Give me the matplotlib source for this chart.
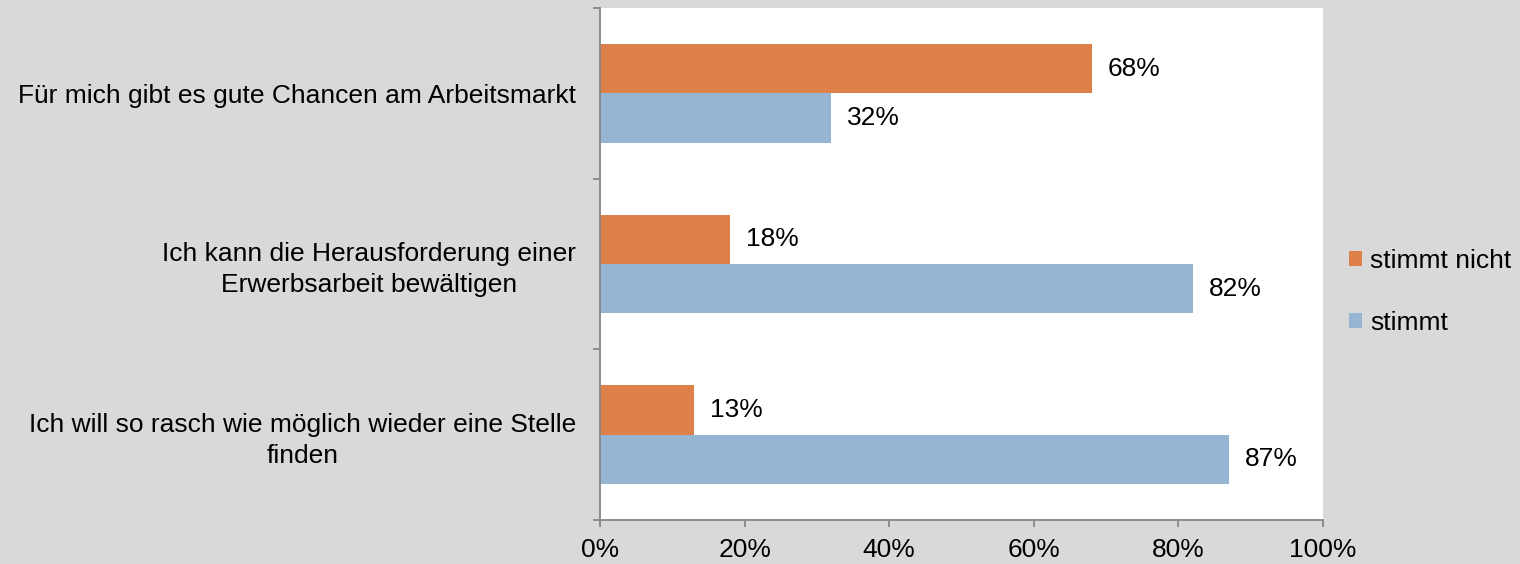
import matplotlib
matplotlib.use("Agg")
import matplotlib.pyplot as plt
import numpy as np

categories = [
    "Für mich gibt es gute Chancen am Arbeitsmarkt",
    "Ich kann die Herausforderung einer\nErwerbsarbeit bewältigen",
    "Ich will so rasch wie möglich wieder eine Stelle\nfinden",
]
stimmt_nicht = [68, 18, 13]
stimmt = [32, 82, 87]
series_names = ["stimmt nicht", "stimmt"]
xticks = [0, 20, 40, 60, 80, 100]

plt.rcParams['font.family'] = ['Liberation Sans', 'DejaVu Sans']
FS = 19
BG = '#d9d9d9'
ORANGE = '#dd8049'
BLUE = '#95b5d3'
SPINE = '#868686'

fig = plt.figure(figsize=(15.2, 5.64), dpi=100, facecolor=BG)
ax = fig.add_axes([600/1520, 1-520/564, 723/1520, 512/564])
ax.set_facecolor('white')

y = np.arange(len(categories))
h = 49/170
b1 = ax.barh(y - h/2, stimmt_nicht, height=h, color=ORANGE, label=series_names[0])
b2 = ax.barh(y + h/2, stimmt, height=h, color=BLUE, label=series_names[1])

for bars, vals in ((b1, stimmt_nicht), (b2, stimmt)):
    for rect, v in zip(bars, vals):
        ax.annotate(f"{v}%", (rect.get_width(), rect.get_y() + rect.get_height()/2),
                    xytext=(16, 0), textcoords='offset pixels',
                    ha='left', va='center', fontsize=FS, color='black')

ax.set_xlim(0, 100)
ax.set_ylim(len(categories) - 0.5, -0.5)
ax.set_xticks(xticks)
ax.set_xticklabels([f"{t}%" for t in xticks], fontsize=FS)
ax.set_yticks(np.arange(-0.5, len(categories), 1.0))
ax.set_yticklabels([])
ax.set_yticks(y, minor=True)
ax.set_yticklabels(categories, minor=True, fontsize=FS, ha='right',
                   multialignment='center', linespacing=1.35)
ax.tick_params(axis='y', which='minor', length=0, pad=17)
ax.tick_params(axis='y', which='major', length=5, color=SPINE, width=1.3)
ax.tick_params(axis='x', length=5, color=SPINE, width=1.3, pad=8)

for s in ('top', 'right'):
    ax.spines[s].set_visible(False)
for s in ('left', 'bottom'):
    ax.spines[s].set_color(SPINE)
    ax.spines[s].set_linewidth(1.3)

leg = fig.legend(handles=[b1, b2], loc='center left', bbox_to_anchor=(1325/1520, 1-292/564),
                 frameon=False, fontsize=FS, handlelength=0.5, handleheight=0.5,
                 handletextpad=0.3, labelspacing=1.45)

fig.savefig('out.png', dpi=100, facecolor=BG)
